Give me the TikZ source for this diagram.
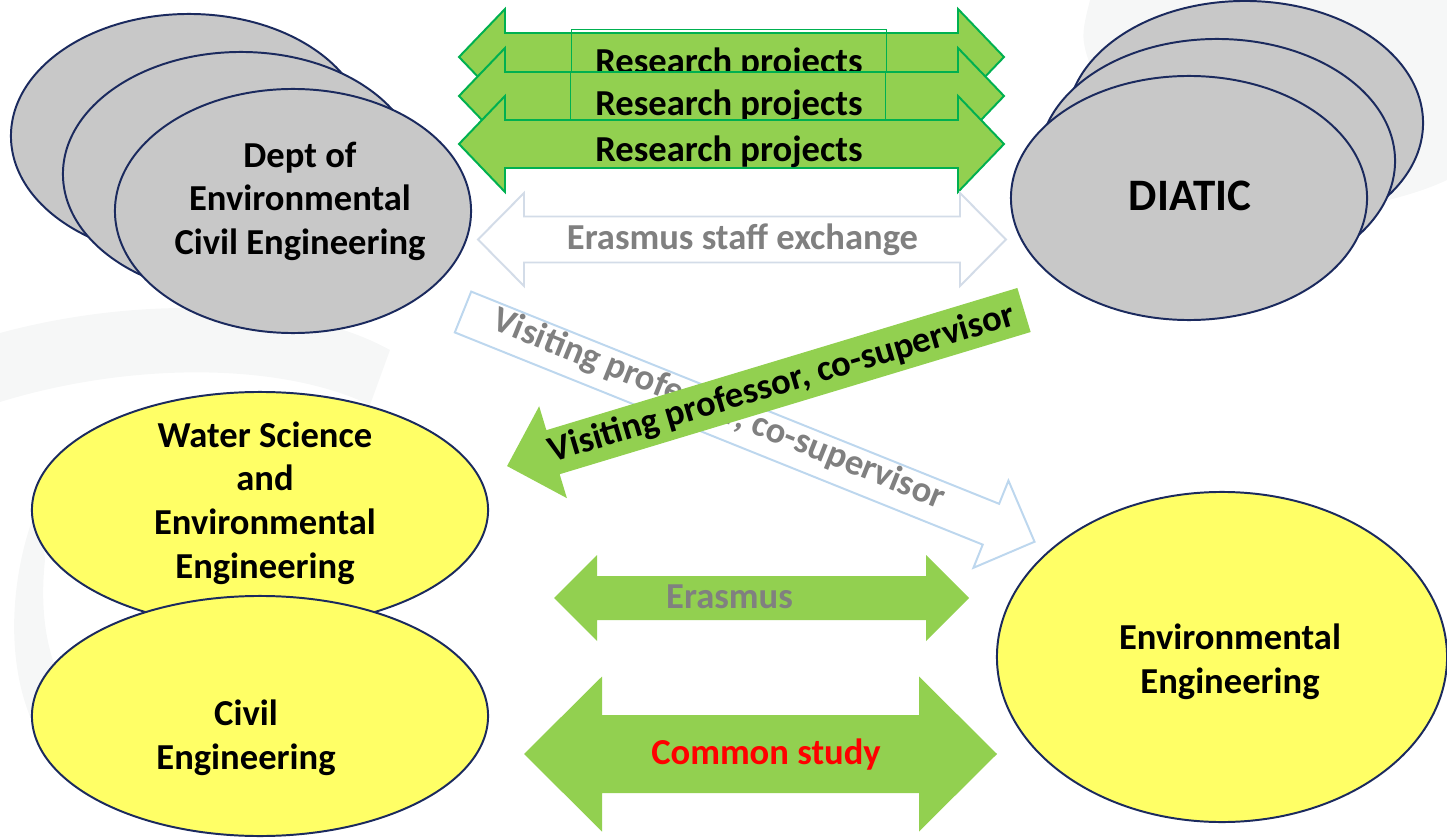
\documentclass[tikz,border=0pt]{standalone}
\usepackage{fontspec}
\setmainfont{Carlito}
\usepackage{tikz}
\usetikzlibrary{shapes.geometric,calc}

\definecolor{leafgreen}{HTML}{92D050}
\definecolor{rimgreen}{HTML}{00B050}
\definecolor{inkblue}{HTML}{1B2A5E}
\definecolor{unitgray}{HTML}{C8C8C8}
\definecolor{unityellow}{HTML}{FFFF66}
\definecolor{lineblue}{HTML}{BDD7EE}
\definecolor{linemist}{HTML}{D3DCE8}
\definecolor{wordgray}{HTML}{808080}
\definecolor{swirlgray}{HTML}{F6F7F7}

% double block arrow: style, centre, half length, half shaft, half head, head length
\newcommand{\twowayarrow}[6]{%
\begin{scope}[shift={(#2)}]
\draw[#1] (-#3,0) -- (-#3+#6,#5) -- (-#3+#6,#4) -- (#3-#6,#4) -- (#3-#6,#5) -- (#3,0)
 -- (#3-#6,-#5) -- (#3-#6,-#4) -- (-#3+#6,-#4) -- (-#3+#6,-#5) -- cycle;
\end{scope}}

% single block arrow: style, tail, angle, length, half shaft, half head, head length
\newcommand{\onewayarrow}[7]{%
\begin{scope}[shift={(#2)}, rotate=#3]
\draw[#1] (0,#5) -- (#4-#7,#5) -- (#4-#7,#6) -- (#4,0) -- (#4-#7,-#6) -- (#4-#7,-#5) -- (0,-#5) -- cycle;
\end{scope}}

\begin{document}
\begin{tikzpicture}[x=0.025cm, y=-0.025cm,
  unit/.style = {ellipse, draw=inkblue, line width=1.4pt, inner sep=0pt},
  deptunit/.style = {unit, fill=unitgray, minimum width=8.9cm, minimum height=6.1cm},
  progunit/.style = {unit, fill=unityellow},
  word/.style = {font=\bfseries\fontsize{26}{31}\selectfont, align=center, inner sep=0pt},
  greyword/.style = {word, text=wordgray},
  projarrow/.style = {fill=leafgreen, draw=rimgreen, line width=1.4pt, line join=miter},
  flatarrow/.style = {fill=leafgreen, draw=none},
  hollowarrow/.style = {fill=white, line width=1.4pt, line join=miter},
  projbox/.style = {draw=rimgreen, line width=0.7pt, minimum width=7.875cm, inner sep=0pt}]
\useasboundingbox (0,0) rectangle (1447,840);

\fill[swirlgray] (0,333) .. controls (140,295) and (300,300) .. (390,350) -- (370,405) .. controls (280,362) and (130,362) .. (0,402) -- cycle;
\fill[swirlgray] (40,500) .. controls (5,580) and (0,700) .. (60,765) .. controls (110,805) .. (200,805) -- (200,770) .. controls (110,765) and (30,700) .. (45,560) -- cycle;
\fill[swirlgray] (1090,0) .. controls (1080,40) .. (1100,90) -- (1330,212) .. controls (1400,200) and (1430,188) .. (1447,180) -- (1447,0) -- cycle;

\node[deptunit] (deptback) at (189,136) {};
\node[deptunit] (deptmid) at (241,174) {};
\node[deptunit] (deptfront) at (293,211) {};
\node[word] (depttext) at (300,201) {Dept of\\Environmental\\Civil Engineering};

\node[deptunit] (diaticback) at (1245,123) {};
\node[deptunit] (diaticmid) at (1217,161) {};
\node[deptunit] (diaticfront) at (1189,198) {};
\node[word, font=\bfseries\fontsize{32}{38}\selectfont, anchor=base] (diatictext) at (1190,210) {DIATIC};

\coordinate (proj1) at (731.5,57);
\coordinate (proj2) at (731.5,96);
\coordinate (proj3) at (731.5,144);
\twowayarrow{projarrow}{proj1}{272.5}{24}{48}{46}
\node[projbox, minimum height=1.05cm] (projbox1) at (729,51) {};
\node[word, anchor=base] (projtext1) at (729,74) {Research projects};
\twowayarrow{projarrow}{proj2}{272.5}{24}{48}{46}
\node[projbox, minimum height=1.2cm] (projbox2) at (728,96) {};
\node[word, anchor=base] (projtext2) at (729,116) {Research projects};
\twowayarrow{projarrow}{proj3}{272.5}{24}{48}{46}
\node[word, anchor=base] (projtext3) at (729,162) {Research projects};

\coordinate (staff) at (742,239.5);
\twowayarrow{hollowarrow, draw=linemist}{staff}{264}{23}{46.5}{46}
\node[greyword, anchor=base] (stafftext) at (742.5,249) {Erasmus staff exchange};

\coordinate (visittail) at (463,312);
\onewayarrow{hollowarrow, draw=lineblue}{visittail}{-21.9}{616}{22}{47}{47}
\node[greyword, rotate=-21.9] (visittext) at (719,410) {Visiting professor, co-supervisor};

\coordinate (hosttail) at (1024,310);
\onewayarrow{flatarrow}{hosttail}{196.8}{540}{23}{48}{48}
\node[word, rotate=16.5] (hosttext) at (782,384) {Visiting professor, co-supervisor};

\node[progunit, minimum width=11.4cm, minimum height=5.9cm] (water) at (260,510) {};
\node[progunit, minimum width=11.4cm, minimum height=6cm] (civil) at (260,716) {};
\node[progunit, minimum width=11.25cm, minimum height=8.25cm] (enveng) at (1222,657) {};
\node[word] (watertext) at (265,503) {Water Science\\and\\Environmental\\Engineering};
\node[word] (civiltext) at (246,738) {Civil\\Engineering};
\node[word] (envtext) at (1230,662) {Environmental\\Engineering};

\coordinate (erasmus) at (761.5,598);
\twowayarrow{flatarrow}{erasmus}{207.5}{22}{43}{43}
\node[greyword, anchor=base] (erasmustext) at (729.5,608) {Erasmus};

\coordinate (common) at (760.5,754);
\twowayarrow{flatarrow}{common}{236.5}{39}{77.5}{78}
\node[word, text=red, anchor=base] (commontext) at (766,764) {Common study};
\end{tikzpicture}
\end{document}
